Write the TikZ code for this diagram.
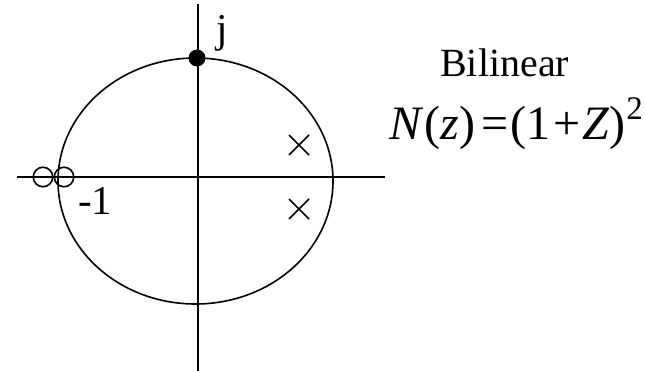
\documentclass[tikz,border=0pt]{standalone}
\usepackage{fontspec}
\setmainfont{Liberation Serif}
\usetikzlibrary{calc}

\tikzset{
    axis/.style={line width=1.6pt},
    zero/.style={circle, draw, line width=1.6pt, minimum size=19.5pt, inner sep=0pt},
    pole/.style={line width=1.6pt},
    label/.style={font=\fontsize{41}{46}\selectfont, inner sep=0pt}
}

\begin{document}
\begin{tikzpicture}[x=1pt, y=-1pt]
    \useasboundingbox (0,0) rectangle (645,371);

    % Axes
    \coordinate (O) at (198,177);
    \coordinate (W) at (17,177);
    \coordinate (E) at (385,177);
    \coordinate (N) at (198,4);
    \coordinate (S) at (198,371);
    \draw[axis] (W) -- (E);
    \draw[axis] (N) -- (S);

    % Unit circle
    \coordinate (C) at (195.5,181);
    \draw[axis] (C) ellipse [x radius=137.5pt, y radius=123pt];

    % Pole pair
    \foreach \name/\y in {p1/145, p2/209} {
        \coordinate (\name) at (299,\y);
        \draw[pole] ($(\name)+(-10,-10)$) -- ($(\name)+(10,10)$);
        \draw[pole] ($(\name)+(-10,10)$) -- ($(\name)+(10,-10)$);
    }

    % Double zero at -1
    \node[zero] (z1) at (43,177) {};
    \node[zero] (z2) at (64,177) {};

    % Point j
    \fill (197,58) circle (8.5pt);
    \node[label, anchor=base west] (j) at (216,43) {j};
    \node[label, anchor=base west] (m1) at (78,215) {-1};

    % Caption
    \node[label, font=\fontsize{40}{46}\selectfont, anchor=base west] (title) at (440,77) {Bilinear};
    \node[label, font=\fontsize{48}{54}\selectfont, anchor=base west] (eq) at (389,140)
        {\textit{N}\hspace{1pt}(\textit{z})\hspace{6pt}=\hspace{2pt}(1\hspace{3pt}+\hspace{2pt}\textit{Z})\hspace{1pt}\raisebox{20pt}{\fontsize{33}{36}\selectfont 2}};
\end{tikzpicture}
\end{document}
